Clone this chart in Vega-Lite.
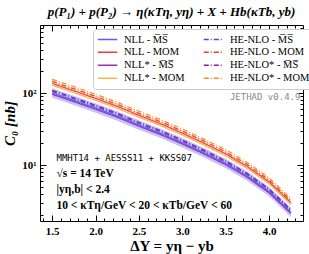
{
  "$schema": "https://vega.github.io/schema/vega-lite/v6.json",
  "autosize": "none",
  "width": 263,
  "height": 196,
  "padding": {"left": 40, "top": 25, "right": 6, "bottom": 33},
  "config": {
    "view": {"stroke": "#000", "strokeWidth": 1},
    "font": "Liberation Serif"
  },
  "title": {
    "text": "p(P₁) + p(P₂) → η(κTη, yη) + X + Hb(κTb, yb)",
    "font": "Liberation Serif",
    "fontStyle": "italic",
    "fontWeight": "bold",
    "fontSize": 13,
    "offset": 6,
    "color": "#000"
  },
  "datasets": {
    "curves": [
      {"series": "NLL - M̅S̅", "dy": 1.5, "c0": 100}, {"series": "NLL - M̅S̅", "dy": 1.75, "c0": 79}, {"series": "NLL - M̅S̅", "dy": 2.0, "c0": 62}, {"series": "NLL - M̅S̅", "dy": 2.25, "c0": 48}, {"series": "NLL - M̅S̅", "dy": 2.5, "c0": 36}, {"series": "NLL - M̅S̅", "dy": 2.75, "c0": 27.5}, {"series": "NLL - M̅S̅", "dy": 3.0, "c0": 20.4}, {"series": "NLL - M̅S̅", "dy": 3.25, "c0": 14.8}, {"series": "NLL - M̅S̅", "dy": 3.5, "c0": 10.5}, {"series": "NLL - M̅S̅", "dy": 3.75, "c0": 7.0}, {"series": "NLL - M̅S̅", "dy": 4.0, "c0": 4.28}, {"series": "NLL - M̅S̅", "dy": 4.25, "c0": 2.21},
      {"series": "HE-NLO - M̅S̅", "dy": 1.5, "c0": 105}, {"series": "HE-NLO - M̅S̅", "dy": 1.75, "c0": 83}, {"series": "HE-NLO - M̅S̅", "dy": 2.0, "c0": 65.1}, {"series": "HE-NLO - M̅S̅", "dy": 2.25, "c0": 50.4}, {"series": "HE-NLO - M̅S̅", "dy": 2.5, "c0": 37.8}, {"series": "HE-NLO - M̅S̅", "dy": 2.75, "c0": 28.9}, {"series": "HE-NLO - M̅S̅", "dy": 3.0, "c0": 21.4}, {"series": "HE-NLO - M̅S̅", "dy": 3.25, "c0": 15.5}, {"series": "HE-NLO - M̅S̅", "dy": 3.5, "c0": 11.0}, {"series": "HE-NLO - M̅S̅", "dy": 3.75, "c0": 7.35}, {"series": "HE-NLO - M̅S̅", "dy": 4.0, "c0": 4.49}, {"series": "HE-NLO - M̅S̅", "dy": 4.25, "c0": 2.32},
      {"series": "NLL* - M̅S̅", "dy": 1.5, "c0": 96}, {"series": "NLL* - M̅S̅", "dy": 1.75, "c0": 75.8}, {"series": "NLL* - M̅S̅", "dy": 2.0, "c0": 59.5}, {"series": "NLL* - M̅S̅", "dy": 2.25, "c0": 46.1}, {"series": "NLL* - M̅S̅", "dy": 2.5, "c0": 34.6}, {"series": "NLL* - M̅S̅", "dy": 2.75, "c0": 26.4}, {"series": "NLL* - M̅S̅", "dy": 3.0, "c0": 19.6}, {"series": "NLL* - M̅S̅", "dy": 3.25, "c0": 14.2}, {"series": "NLL* - M̅S̅", "dy": 3.5, "c0": 10.1}, {"series": "NLL* - M̅S̅", "dy": 3.75, "c0": 6.72}, {"series": "NLL* - M̅S̅", "dy": 4.0, "c0": 4.11}, {"series": "NLL* - M̅S̅", "dy": 4.25, "c0": 2.13},
      {"series": "HE-NLO* - M̅S̅", "dy": 1.5, "c0": 109}, {"series": "HE-NLO* - M̅S̅", "dy": 1.75, "c0": 86.1}, {"series": "HE-NLO* - M̅S̅", "dy": 2.0, "c0": 67.6}, {"series": "HE-NLO* - M̅S̅", "dy": 2.25, "c0": 52.3}, {"series": "HE-NLO* - M̅S̅", "dy": 2.5, "c0": 39.2}, {"series": "HE-NLO* - M̅S̅", "dy": 2.75, "c0": 30.0}, {"series": "HE-NLO* - M̅S̅", "dy": 3.0, "c0": 22.2}, {"series": "HE-NLO* - M̅S̅", "dy": 3.25, "c0": 16.1}, {"series": "HE-NLO* - M̅S̅", "dy": 3.5, "c0": 11.4}, {"series": "HE-NLO* - M̅S̅", "dy": 3.75, "c0": 7.62}, {"series": "HE-NLO* - M̅S̅", "dy": 4.0, "c0": 4.66}, {"series": "HE-NLO* - M̅S̅", "dy": 4.25, "c0": 2.41},
      {"series": "NLL - MOM", "dy": 1.5, "c0": 136}, {"series": "NLL - MOM", "dy": 1.75, "c0": 107.4}, {"series": "NLL - MOM", "dy": 2.0, "c0": 84.3}, {"series": "NLL - MOM", "dy": 2.25, "c0": 65.3}, {"series": "NLL - MOM", "dy": 2.5, "c0": 49.0}, {"series": "NLL - MOM", "dy": 2.75, "c0": 37.4}, {"series": "NLL - MOM", "dy": 3.0, "c0": 27.7}, {"series": "NLL - MOM", "dy": 3.25, "c0": 20.1}, {"series": "NLL - MOM", "dy": 3.5, "c0": 14.3}, {"series": "NLL - MOM", "dy": 3.75, "c0": 9.5}, {"series": "NLL - MOM", "dy": 4.0, "c0": 5.82}, {"series": "NLL - MOM", "dy": 4.25, "c0": 3.01},
      {"series": "HE-NLO - MOM", "dy": 1.5, "c0": 145}, {"series": "HE-NLO - MOM", "dy": 1.75, "c0": 114.6}, {"series": "HE-NLO - MOM", "dy": 2.0, "c0": 89.9}, {"series": "HE-NLO - MOM", "dy": 2.25, "c0": 69.6}, {"series": "HE-NLO - MOM", "dy": 2.5, "c0": 52.2}, {"series": "HE-NLO - MOM", "dy": 2.75, "c0": 39.9}, {"series": "HE-NLO - MOM", "dy": 3.0, "c0": 29.6}, {"series": "HE-NLO - MOM", "dy": 3.25, "c0": 21.5}, {"series": "HE-NLO - MOM", "dy": 3.5, "c0": 15.2}, {"series": "HE-NLO - MOM", "dy": 3.75, "c0": 10.1}, {"series": "HE-NLO - MOM", "dy": 4.0, "c0": 6.2}, {"series": "HE-NLO - MOM", "dy": 4.25, "c0": 3.2},
      {"series": "NLL* - MOM", "dy": 1.5, "c0": 128}, {"series": "NLL* - MOM", "dy": 1.75, "c0": 101.1}, {"series": "NLL* - MOM", "dy": 2.0, "c0": 79.4}, {"series": "NLL* - MOM", "dy": 2.25, "c0": 61.4}, {"series": "NLL* - MOM", "dy": 2.5, "c0": 46.1}, {"series": "NLL* - MOM", "dy": 2.75, "c0": 35.2}, {"series": "NLL* - MOM", "dy": 3.0, "c0": 26.1}, {"series": "NLL* - MOM", "dy": 3.25, "c0": 18.9}, {"series": "NLL* - MOM", "dy": 3.5, "c0": 13.4}, {"series": "NLL* - MOM", "dy": 3.75, "c0": 8.94}, {"series": "NLL* - MOM", "dy": 4.0, "c0": 5.48}, {"series": "NLL* - MOM", "dy": 4.25, "c0": 2.83},
      {"series": "HE-NLO* - MOM", "dy": 1.5, "c0": 155}, {"series": "HE-NLO* - MOM", "dy": 1.75, "c0": 122.5}, {"series": "HE-NLO* - MOM", "dy": 2.0, "c0": 96.1}, {"series": "HE-NLO* - MOM", "dy": 2.25, "c0": 74.4}, {"series": "HE-NLO* - MOM", "dy": 2.5, "c0": 55.8}, {"series": "HE-NLO* - MOM", "dy": 2.75, "c0": 42.6}, {"series": "HE-NLO* - MOM", "dy": 3.0, "c0": 31.6}, {"series": "HE-NLO* - MOM", "dy": 3.25, "c0": 22.9}, {"series": "HE-NLO* - MOM", "dy": 3.5, "c0": 16.3}, {"series": "HE-NLO* - MOM", "dy": 3.75, "c0": 10.8}, {"series": "HE-NLO* - MOM", "dy": 4.0, "c0": 6.63}, {"series": "HE-NLO* - MOM", "dy": 4.25, "c0": 3.43}
    ],
    "bands": [
      {"band": "MS", "dy": 1.5, "lo": 86, "hi": 116}, {"band": "MS", "dy": 1.75, "lo": 67.9, "hi": 91.6}, {"band": "MS", "dy": 2.0, "lo": 53.3, "hi": 71.9}, {"band": "MS", "dy": 2.25, "lo": 41.3, "hi": 55.7}, {"band": "MS", "dy": 2.5, "lo": 31.0, "hi": 41.8}, {"band": "MS", "dy": 2.75, "lo": 23.7, "hi": 31.9}, {"band": "MS", "dy": 3.0, "lo": 17.5, "hi": 23.7}, {"band": "MS", "dy": 3.25, "lo": 12.7, "hi": 17.2}, {"band": "MS", "dy": 3.5, "lo": 9.03, "hi": 12.2}, {"band": "MS", "dy": 3.75, "lo": 6.0, "hi": 8.1}, {"band": "MS", "dy": 4.0, "lo": 3.68, "hi": 4.97}, {"band": "MS", "dy": 4.25, "lo": 1.9, "hi": 2.57},
      {"band": "MOM", "dy": 1.5, "lo": 125, "hi": 150}, {"band": "MOM", "dy": 1.75, "lo": 98.8, "hi": 118.5}, {"band": "MOM", "dy": 2.0, "lo": 77.5, "hi": 93}, {"band": "MOM", "dy": 2.25, "lo": 60, "hi": 72}, {"band": "MOM", "dy": 2.5, "lo": 45, "hi": 54}, {"band": "MOM", "dy": 2.75, "lo": 34.4, "hi": 41.3}, {"band": "MOM", "dy": 3.0, "lo": 25.5, "hi": 30.6}, {"band": "MOM", "dy": 3.25, "lo": 18.5, "hi": 22.2}, {"band": "MOM", "dy": 3.5, "lo": 13.1, "hi": 15.8}, {"band": "MOM", "dy": 3.75, "lo": 8.7, "hi": 10.5}, {"band": "MOM", "dy": 4.0, "lo": 5.35, "hi": 6.42}, {"band": "MOM", "dy": 4.25, "lo": 2.76, "hi": 3.32}
    ]
  },
  "layer": [
    {
      "data": {"name": "bands"},
      "transform": [{"filter": "datum.band == 'MS'"}],
      "mark": {"type": "area", "color": "#a9a9f5", "opacity": 0.7},
      "encoding": {
        "x": {"field": "dy", "type": "quantitative", "scale": {"domain": [1.36, 4.39], "nice": false, "zero": false},
          "axis": {"orient": "top", "labels": false, "title": null, "grid": false, "domain": false,
            "values": [1.4,1.5,1.6,1.7,1.8,1.9,2.0,2.1,2.2,2.3,2.4,2.5,2.6,2.7,2.8,2.9,3.0,3.1,3.2,3.3,3.4,3.5,3.6,3.7,3.8,3.9,4.0,4.1,4.2,4.3],
            "tickColor": "#000",
            "tickSize": {"condition": {"test": "abs(datum.value*2 - round(datum.value*2)) < 0.001", "value": -6}, "value": -3}}},
        "y": {"field": "lo", "type": "quantitative", "scale": {"type": "log", "domain": [1.67, 880], "nice": false},
          "axis": {"orient": "right", "labels": false, "title": null, "grid": false, "domain": false,
            "values": [2,3,4,5,6,7,8,9,10,20,30,40,50,60,70,80,90,100,200,300,400,500,600,700,800],
            "tickColor": "#000",
            "tickSize": {"condition": {"test": "datum.value == 10 || datum.value == 100", "value": -6}, "value": -3}}},
        "y2": {"field": "hi"}
      }
    },
    {
      "data": {"name": "bands"},
      "transform": [{"filter": "datum.band == 'MOM'"}],
      "mark": {"type": "area", "color": "#fcd2b8", "opacity": 0.5},
      "encoding": {
        "x": {"field": "dy", "type": "quantitative", "axis": null},
        "y": {"field": "lo", "type": "quantitative", "axis": null},
        "y2": {"field": "hi"}
      }
    },
    {
      "data": {"name": "curves"},
      "mark": {"type": "line", "strokeWidth": 1.2},
      "encoding": {
        "x": {"field": "dy", "type": "quantitative",
          "axis": {"orient": "bottom", "title": "ΔY = yη − yb", "titleFont": "Liberation Serif", "titleFontSize": 15, "titleFontWeight": "bold", "titleColor": "#000", "titlePadding": 2,
            "grid": false, "domain": false,
            "values": [1.4,1.5,1.6,1.7,1.8,1.9,2.0,2.1,2.2,2.3,2.4,2.5,2.6,2.7,2.8,2.9,3.0,3.1,3.2,3.3,3.4,3.5,3.6,3.7,3.8,3.9,4.0,4.1,4.2,4.3],
            "labelExpr": "abs(datum.value*2 - round(datum.value*2)) < 0.001 ? format(datum.value, '.1f') : ''",
            "labelFont": "Liberation Serif", "labelFontWeight": "bold", "labelFontSize": 11, "labelColor": "#000",
            "tickColor": "#000", "labelPadding": 10,
            "tickSize": {"condition": {"test": "abs(datum.value*2 - round(datum.value*2)) < 0.001", "value": -6}, "value": -3}}},
        "y": {"field": "c0", "type": "quantitative",
          "axis": {"orient": "left", "title": "C₀ [nb]", "titleFont": "Liberation Serif", "titleFontSize": 15, "titleFontWeight": "bold", "titleFontStyle": "italic", "titleColor": "#000", "titlePadding": 4,
            "grid": false, "domain": false,
            "values": [2,3,4,5,6,7,8,9,10,20,30,40,50,60,70,80,90,100,200,300,400,500,600,700,800],
            "labelExpr": "datum.value == 10 ? '10¹' : datum.value == 100 ? '10²' : ''",
            "labelFont": "Liberation Serif", "labelFontWeight": "bold", "labelFontSize": 11, "labelColor": "#000",
            "tickColor": "#000", "labelPadding": 10,
            "tickSize": {"condition": {"test": "datum.value == 10 || datum.value == 100", "value": -6}, "value": -3}}},
        "color": {"field": "series", "type": "nominal",
          "scale": {
            "domain": ["NLL - M̅S̅", "NLL - MOM", "NLL* - M̅S̅", "NLL* - MOM", "HE-NLO - M̅S̅", "HE-NLO - MOM", "HE-NLO* - M̅S̅", "HE-NLO* - MOM"],
            "range": ["#5c5cff", "#ee3b3b", "#9a2fae", "#ffb347", "#4a4ae0", "#e8401c", "#8a1fa0", "#ff8c1a"]
          },
          "legend": {
            "title": null, "orient": "none", "legendX": 53, "legendY": 4, "columns": 2, "columnPadding": 18, "rowPadding": 0,
            "symbolType": "stroke", "symbolSize": 380, "symbolStrokeWidth": 1.3, "clipHeight": 12.5,
            "labelFont": "Liberation Serif", "labelFontSize": 10.5, "labelColor": "#000", "labelOffset": 6,
            "fillColor": "#fff", "strokeColor": "#ccc", "cornerRadius": 3, "padding": 4
          }},
        "strokeDash": {"field": "series", "type": "nominal",
          "scale": {
            "domain": ["NLL - M̅S̅", "NLL - MOM", "NLL* - M̅S̅", "NLL* - MOM", "HE-NLO - M̅S̅", "HE-NLO - MOM", "HE-NLO* - M̅S̅", "HE-NLO* - MOM"],
            "range": [[1, 0], [1, 0], [1, 0], [1, 0], [5, 2, 1, 2], [5, 2, 1, 2], [5, 2, 1, 2], [5, 2, 1, 2]]
          }}
      }
    },
    {
      "data": {"values": [{"note": "JETHAD v0.4.9"}]},
      "mark": {"type": "text", "align": "right", "baseline": "middle", "font": "DejaVu Sans Mono", "fontSize": 9, "color": "#888"},
      "encoding": {
        "text": {"field": "note"},
        "x": {"datum": 4.36, "type": "quantitative", "axis": null},
        "y": {"datum": 88, "type": "quantitative", "axis": null}
      }
    },
    {
      "data": {"values": [{"note": "MMHT14 + AESSS11 + KKSS07"}]},
      "mark": {"type": "text", "align": "left", "baseline": "middle", "font": "DejaVu Sans Mono", "fontSize": 9, "color": "#000"},
      "encoding": {
        "text": {"field": "note"},
        "x": {"datum": 1.55, "type": "quantitative", "axis": null},
        "y": {"datum": 12.5, "type": "quantitative", "axis": null}
      }
    },
    {
      "data": {"values": [{"note": "√s = 14 TeV"}]},
      "mark": {"type": "text", "align": "left", "baseline": "middle", "font": "Liberation Serif", "fontWeight": "bold", "fontSize": 11.5, "color": "#000"},
      "encoding": {
        "text": {"field": "note"},
        "x": {"datum": 1.55, "type": "quantitative", "axis": null},
        "y": {"datum": 7.5, "type": "quantitative", "axis": null}
      }
    },
    {
      "data": {"values": [{"note": "|yη,b| < 2.4"}]},
      "mark": {"type": "text", "align": "left", "baseline": "middle", "font": "Liberation Serif", "fontWeight": "bold", "fontSize": 11.5, "color": "#000"},
      "encoding": {
        "text": {"field": "note"},
        "x": {"datum": 1.55, "type": "quantitative", "axis": null},
        "y": {"datum": 4.5, "type": "quantitative", "axis": null}
      }
    },
    {
      "data": {"values": [{"note": "10 < κTη/GeV < 20 < κTb/GeV < 60"}]},
      "mark": {"type": "text", "align": "left", "baseline": "middle", "font": "Liberation Serif", "fontWeight": "bold", "fontSize": 11.5, "color": "#000"},
      "encoding": {
        "text": {"field": "note"},
        "x": {"datum": 1.55, "type": "quantitative", "axis": null},
        "y": {"datum": 2.7, "type": "quantitative", "axis": null}
      }
    }
  ],
  "resolve": {"axis": {"x": "independent", "y": "independent"}}
}
